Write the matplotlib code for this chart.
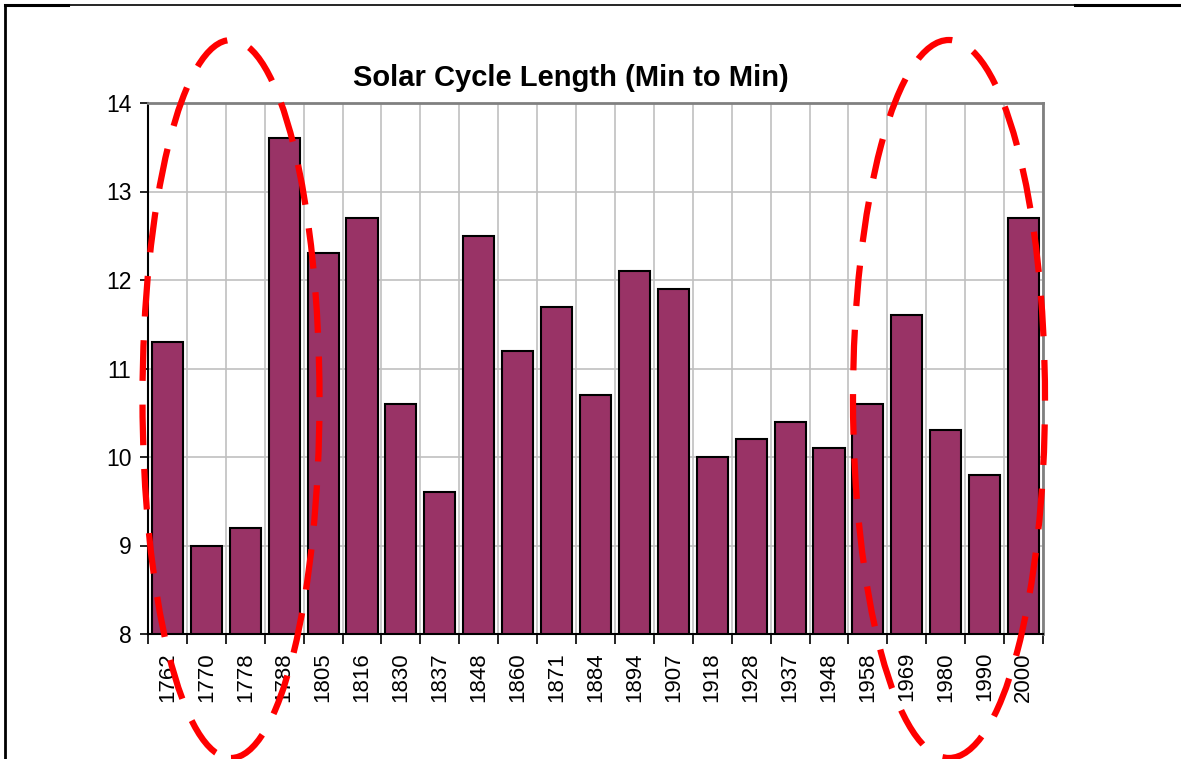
import matplotlib.pyplot as plt
from matplotlib.patches import Ellipse
from matplotlib.lines import Line2D
import numpy as np

plt.rcParams['font.family'] = ['Liberation Sans', 'DejaVu Sans']

years = ['1762', '1770', '1778', '1788', '1805', '1816', '1830', '1837', '1848',
         '1860', '1871', '1884', '1894', '1907', '1918', '1928', '1937', '1948',
         '1958', '1969', '1980', '1990', '2000']
lengths = [11.3, 9.0, 9.2, 13.6, 12.3, 12.7, 10.6, 9.6, 12.5, 11.2, 11.7, 10.7,
           12.1, 11.9, 10.0, 10.2, 10.4, 10.1, 10.6, 11.6, 10.3, 9.8, 12.7]

fig = plt.figure(figsize=(11.81, 7.59), dpi=100)
ax = fig.add_axes([148 / 1181, 1 - 634 / 759, 895 / 1181, 531 / 759])

x = np.arange(len(years))
ax.bar(x, [v - 8 for v in lengths], bottom=8, width=0.8, color='#993366',
       edgecolor='black', linewidth=1.5, zorder=3)

ax.set_xlim(-0.5, len(years) - 0.5)
ax.set_ylim(8, 14)
ax.set_yticks(range(8, 15))
ax.set_xticks(x)
ax.set_xticklabels(years, rotation=90, fontsize=16)
ax.set_xticks(np.arange(-0.5, len(years), 1), minor=True)
ax.tick_params(axis='x', which='major', length=0, pad=13)
ax.tick_params(axis='x', which='minor', length=7, width=1.2, direction='out')
ax.tick_params(axis='y', labelsize=16.5, length=6, width=1.2, direction='out', pad=6)

ax.grid(True, axis='y', which='major', color='#c0c0c0', linewidth=1.2, zorder=0)
ax.grid(True, axis='x', which='minor', color='#c0c0c0', linewidth=1.2, zorder=0)
ax.spines['left'].set_linewidth(1.5)
ax.spines['bottom'].set_linewidth(1.5)
ax.spines['top'].set_color('#808080')
ax.spines['right'].set_color('#808080')
ax.spines['top'].set_linewidth(2)
ax.spines['right'].set_linewidth(2)

fig.text(571 / 1181, 1 - 78 / 759, 'Solar Cycle Length (Min to Min)', ha='center',
         va='center', fontsize=21, fontweight='bold')

# red dashed ellipses highlighting both ends
for cx, w in [(231, 177), (949, 192)]:
    e = Ellipse((cx / 1181, 1 - 399 / 759), w / 1181, 718 / 759,
                transform=fig.transFigure, fill=False, edgecolor='#ff0000',
                linewidth=4.5, linestyle=(0, (6.5, 3.8)), zorder=10, clip_on=False)
    fig.add_artist(e)

# page border lines
fig.add_artist(Line2D([5 / 1181, 5 / 1181], [0, 1 - 5 / 759], color='black',
                      linewidth=2, transform=fig.transFigure))
fig.add_artist(Line2D([5 / 1181, 1], [1 - 5 / 759, 1 - 5 / 759], color='black',
                      linewidth=1.2, transform=fig.transFigure))
for x0, x1 in [(5, 68), (1075, 1181)]:
    fig.add_artist(Line2D([x0 / 1181, x1 / 1181], [1 - 5 / 759, 1 - 5 / 759],
                          color='black', linewidth=2.2, transform=fig.transFigure))

fig.savefig('out.png', dpi=100)
